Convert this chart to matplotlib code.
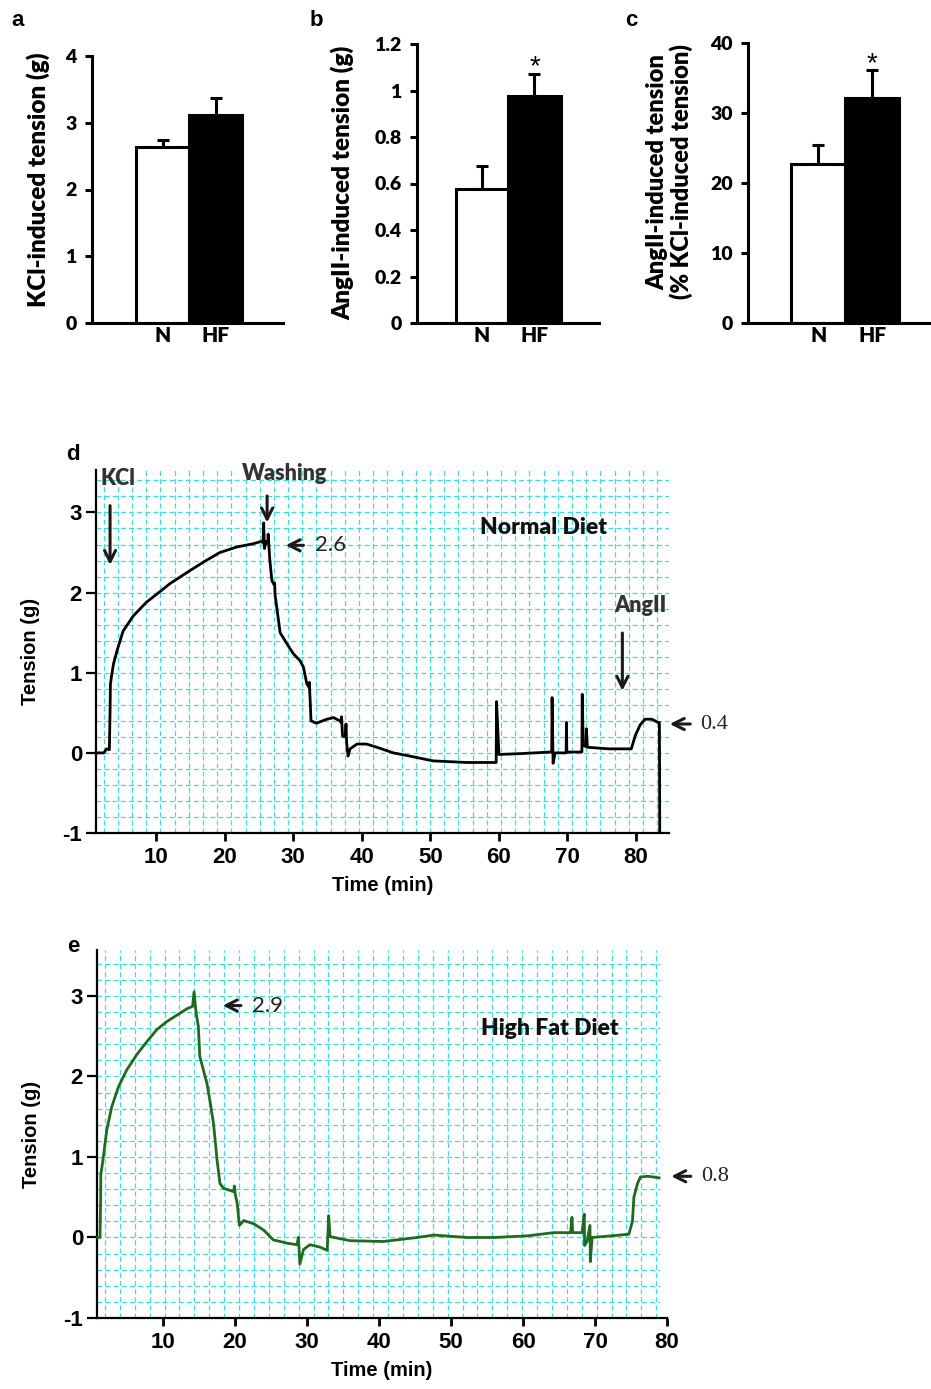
import numpy as np
import matplotlib.pyplot as plt

W, H = 931, 1389

# ---- bar panels (a, b, c) ----
groups = ['N', 'HF']
kcl_mean = [2.64, 3.12]
kcl_err = [0.10, 0.25]
ang_mean = [0.575, 0.975]
ang_err = [0.10, 0.095]
pct_mean = [22.7, 32.1]
pct_err = [2.7, 4.0]

# ---- traces (d: normal diet, e: high fat diet) ----
t_normal = [1.25, 2.4, 2.8, 3.2, 3.3, 3.35, 3.5, 3.8, 4.3, 5.2, 6.7, 8.6, 10.1, 12.0,
            14.5, 16.9, 19.3, 21.8, 24.2, 25.4, 25.6, 25.7, 25.8, 26.1, 26.3, 26.35,
            26.6, 26.9, 27.2, 27.3, 27.35, 27.6, 28.1, 29.1, 30.0, 31.0, 31.5, 31.8,
            32.0, 32.3, 32.35, 32.5, 32.6, 33.4, 34.9, 35.9, 36.8, 37.0, 37.05, 37.2,
            37.6, 37.7, 37.8, 38.0, 38.3, 39.3, 40.7, 42.2, 44.6, 47.0, 50.4, 55.3,
            59.4, 59.6, 59.65, 60.0, 63.0, 67.5, 67.7, 67.75, 67.9, 68.2, 69.7, 69.8,
            69.85, 69.9, 71.9, 72.1, 72.15, 72.3, 72.7, 72.75, 72.9, 76.0, 79.3, 79.9,
            80.6, 81.3, 82.3, 83.2, 83.4, 83.45]
g_normal = [0.0, 0.0, 0.05, 0.04, 0.52, 0.85, 0.95, 1.11, 1.27, 1.52, 1.71, 1.88, 1.98, 2.11,
            2.25, 2.38, 2.50, 2.57, 2.61, 2.64, 2.62, 2.87, 2.55, 2.64, 2.62, 2.73,
            2.40, 2.15, 2.10, 2.12, 1.98, 1.82, 1.50, 1.36, 1.24, 1.15, 1.07, 0.94,
            0.86, 0.82, 0.88, 0.61, 0.40, 0.37, 0.42, 0.44, 0.40, 0.38, 0.45, 0.21,
            0.20, 0.36, 0.12, -0.04, 0.05, 0.11, 0.11, 0.07, 0.0, -0.04, -0.10, -0.12,
            -0.12, -0.12, 0.64, -0.02, -0.01, 0.01, 0.01, 0.69, -0.13, 0.0, 0.0, 0.0,
            0.38, 0.01, 0.01, 0.01, 0.73, 0.09, 0.08, 0.30, 0.07, 0.05, 0.05, 0.22,
            0.35, 0.42, 0.42, 0.38, 0.38, -0.98]

t_hfd = [0.9, 1.24, 1.33, 1.35, 1.47, 1.7, 2.17, 2.86, 3.8, 4.95, 6.34, 7.73, 9.12, 10.5,
         11.9, 13.3, 14.1, 14.3, 14.6, 14.9, 15.1, 15.6, 16.1, 16.5, 17.0, 17.5, 17.9,
         18.4, 19.8, 19.9, 20.0, 20.3, 20.6, 21.2, 22.6, 24.0, 25.3, 27.2, 28.6, 28.8,
         29.0, 29.5, 30.4, 31.8, 32.8, 33.0, 33.2, 36.0, 40.6, 45.3, 47.6, 52.2, 56.0,
         60.6, 64.3, 66.6, 66.8, 66.9, 68.2, 68.5, 68.55, 68.9, 69.3, 69.35, 69.6, 72.2,
         74.7, 75.2, 75.4, 75.9, 76.3, 77.3, 78.2, 78.9]
g_hfd = [0.0, 0.0, 0.5, 0.79, 0.85, 1.0, 1.33, 1.62, 1.87, 2.08, 2.27, 2.43, 2.58, 2.68,
         2.76, 2.84, 2.87, 3.05, 2.78, 2.62, 2.25, 2.08, 1.91, 1.70, 1.42, 0.96, 0.67,
         0.61, 0.57, 0.64, 0.55, 0.42, 0.15, 0.21, 0.17, 0.09, -0.03, -0.07, -0.09, 0.0,
         -0.33, -0.15, -0.09, -0.12, -0.16, 0.27, 0.01, -0.04, -0.05, 0.0, 0.03, 0.0, 0.0,
         0.02, 0.06, 0.06, 0.25, 0.06, 0.06, 0.29, -0.10, -0.05, 0.15, -0.30, 0.0, 0.02,
         0.04, 0.20, 0.50, 0.67, 0.75, 0.76, 0.75, 0.74]

CAL = 'Lato'
ARIAL = 'Liberation Sans'
HEAVY = 'heavy'


def box(l, t, r, b):
    return [l / W, 1 - b / H, (r - l) / W, (b - t) / H]


def px(x, y):
    return x / W, 1 - y / H


fig = plt.figure(figsize=(W / 100, H / 100), dpi=100)


def bar_panel(rect, means, errs, ylim, yticks, ylabels, xlim, star_y=None):
    ax = fig.add_axes(rect)
    x = np.arange(1, 3)
    ax.bar(x, means, width=1.0, color=['white', 'black'], edgecolor='black',
           linewidth=2.2, zorder=2)
    ax.errorbar(x, means, yerr=[[0, 0], errs], fmt='none', ecolor='black',
                elinewidth=2.2, capsize=4, capthick=2.2, zorder=1)
    ax.set_xlim(*xlim)
    ax.set_ylim(*ylim)
    ax.set_yticks(yticks)
    ax.set_yticklabels(ylabels, fontfamily=CAL, fontweight=HEAVY, fontsize=14)
    ax.set_xticks(x)
    ax.set_xticklabels(groups, fontfamily=CAL, fontweight=HEAVY, fontsize=15)
    ax.tick_params(axis='x', length=0, pad=2)
    ax.tick_params(axis='y', direction='out', length=5, width=2.2, pad=6)
    for s in ['top', 'right']:
        ax.spines[s].set_visible(False)
    for s in ['left', 'bottom']:
        ax.spines[s].set_linewidth(2.2)
    if star_y is not None:
        ax.text(2, star_y, '*', ha='center', va='center', fontsize=20,
                fontfamily=ARIAL)
    return ax


bar_panel(box(92, 56, 283, 323), kcl_mean, kcl_err, (0, 4), [0, 1, 2, 3, 4],
          ['0', '1', '2', '3', '4'], (-0.33, 3.27))
bar_panel(box(417, 44, 599, 323), ang_mean, ang_err, (0, 1.2),
          [0, 0.2, 0.4, 0.6, 0.8, 1.0, 1.2],
          ['0', '0.2', '0.4', '0.6', '0.8', '1', '1.2'], (-0.24, 3.23), star_y=1.10)
bar_panel(box(748, 43, 931, 323), pct_mean, pct_err, (0, 40), [0, 10, 20, 30, 40],
          ['0', '10', '20', '30', '40'], (-0.3, 3.09), star_y=37.0)

fig.text(*px(38, 180), 'KCl-induced tension (g)', rotation=90, ha='center', va='center',
         fontfamily=CAL, fontweight=HEAVY, fontsize=17.5)
fig.text(*px(342, 183), 'AngII-induced tension (g)', rotation=90, ha='center', va='center',
         fontfamily=CAL, fontweight=HEAVY, fontsize=17.5)
fig.text(*px(670, 172), 'AngII-induced tension\n(% KCl-induced tension)', rotation=90,
         ha='center', va='center', multialignment='center', linespacing=1.05,
         fontfamily=CAL, fontweight=HEAVY, fontsize=17)

for lab, x, y in [('a', 18, 20), ('b', 316, 20), ('c', 631, 20), ('d', 73, 455), ('e', 73, 947)]:
    fig.text(*px(x, y), lab, ha='center', va='center', fontfamily=ARIAL,
             fontweight='bold', fontsize=16)


def trace_panel(rect, t, g, color, xlim, ytop, grid_right, xticks):
    ax = fig.add_axes(rect)
    ax.set_xlim(*xlim)
    ax.set_ylim(-1, ytop)
    # chart-paper grid
    gcol = '#3fdcdc'
    ax.hlines(np.arange(-0.8, ytop, 0.2), xlim[0], grid_right, colors=gcol,
              linewidth=0.9, linestyles=(0, (4, 2.5)), zorder=0)
    ax.vlines(np.arange(xlim[0] + 1.1, grid_right, 2.07), -1, ytop, colors=gcol,
              linewidth=0.9, linestyles=(0, (4, 2.5)), zorder=0)
    ax.plot(t, g, color=color, linewidth=2.0, zorder=3, clip_on=False)
    for s in ['top', 'right']:
        ax.spines[s].set_visible(False)
    for s in ['left', 'bottom']:
        ax.spines[s].set_linewidth(1.6)
    ax.set_yticks([-1, 0, 1, 2, 3])
    ax.set_yticklabels(['-1', '0', '1', '2', '3'], fontfamily=ARIAL,
                       fontweight='bold', fontsize=16)
    ax.set_xticks(xticks)
    ax.set_xticklabels([str(v) for v in xticks], fontfamily=ARIAL,
                       fontweight='bold', fontsize=16)
    ax.tick_params(axis='y', direction='out', length=7, width=1.6, pad=3)
    ax.tick_params(axis='x', direction='out', length=6, width=2, pad=4)
    ax.set_xlabel('Time (min)', fontfamily=ARIAL, fontweight='bold', fontsize=14.5,
                  labelpad=6)
    ax.set_ylabel('Tension (g)', fontfamily=ARIAL, fontweight='bold', fontsize=14.5,
                  labelpad=16)
    return ax


arrow = dict(arrowstyle='->', lw=2.2, color='#1a1a1a', mutation_scale=20)

axd = trace_panel(box(96, 470, 669, 833), t_normal, g_normal, 'black', (1.25, 84.8),
                  3.53, 84.9, [10, 20, 30, 40, 50, 60, 70, 80])
axd.text(1.9, 3.42, 'KCl', ha='left', va='center', fontfamily=CAL, fontweight=HEAVY,
         fontsize=15.5, color='#333333', clip_on=False)
axd.annotate('', xy=(3.3, 2.31), xytext=(3.3, 3.12), arrowprops=arrow)
axd.text(28.8, 3.49, 'Washing', ha='center', va='center', fontfamily=CAL,
         fontweight=HEAVY, fontsize=15.5, color='#333333', clip_on=False)
axd.annotate('', xy=(26.2, 2.84), xytext=(26.2, 3.24), arrowprops=arrow)
axd.annotate('', xy=(28.5, 2.59), xytext=(31.9, 2.59), arrowprops=arrow)
axd.text(33.2, 2.59, '2.6', ha='left', va='center', fontfamily=CAL, fontsize=16,
         color='#222222')
axd.text(57.3, 2.81, 'Normal Diet', ha='left', va='center', fontfamily=CAL,
         fontweight=HEAVY, fontsize=16.5, color='#111111')
axd.text(80.6, 1.84, 'AngII', ha='center', va='center', fontfamily=CAL,
         fontweight=HEAVY, fontsize=15.5, color='#333333')
axd.annotate('', xy=(78.0, 0.74), xytext=(78.0, 1.53), arrowprops=arrow)
axd.annotate('', xy=(84.5, 0.36), xytext=(88.3, 0.36), arrowprops=arrow,
             annotation_clip=False)
axd.text(89.3, 0.36, '0.4', ha='left', va='center', fontfamily='Liberation Serif',
         fontsize=16, color='#222222', clip_on=False)

axe = trace_panel(box(97, 950, 667, 1318), t_hfd, g_hfd, '#1f6a1f', (0.82, 80.0),
                  3.57, 79.0, [10, 20, 30, 40, 50, 60, 70, 80])
axe.annotate('', xy=(17.9, 2.88), xytext=(21.2, 2.88), arrowprops=arrow)
axe.text(22.4, 2.88, '2.9', ha='left', va='center', fontfamily=CAL, fontsize=16,
         color='#222222')
axe.text(54.1, 2.59, 'High Fat Diet', ha='left', va='center', fontfamily=CAL,
         fontweight=HEAVY, fontsize=16.5, color='#111111')
axe.annotate('', xy=(80.2, 0.76), xytext=(83.7, 0.76), arrowprops=arrow,
             annotation_clip=False)
axe.text(84.7, 0.76, '0.8', ha='left', va='center', fontfamily='Liberation Serif',
         fontsize=16, color='#222222', clip_on=False)

fig.savefig('out.png', dpi=100)
